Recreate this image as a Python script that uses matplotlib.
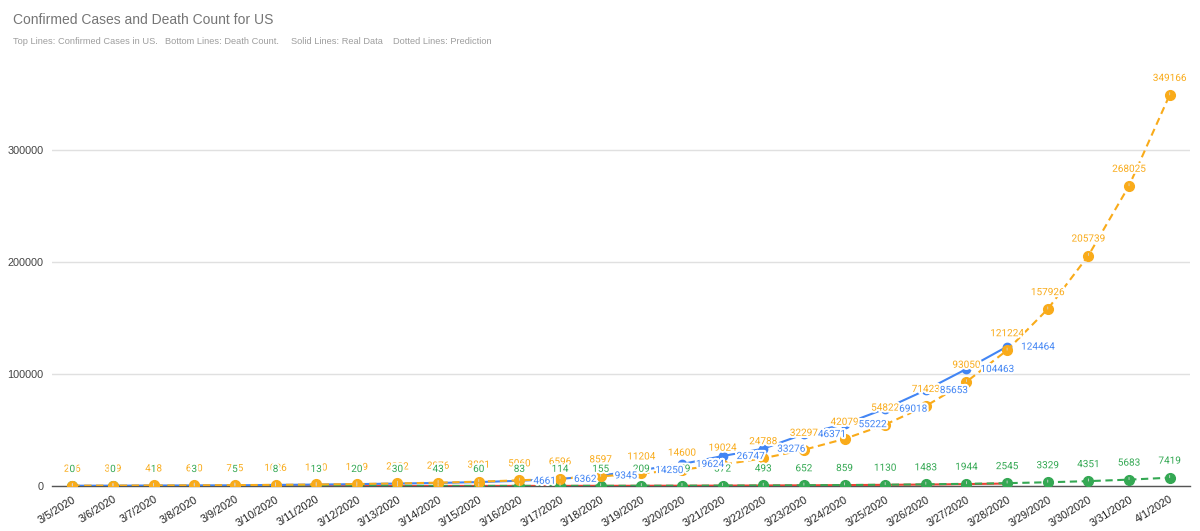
import matplotlib.pyplot as plt
import matplotlib.patheffects as pe

# ---- data ----
dates = ['3/5/2020', '3/6/2020', '3/7/2020', '3/8/2020', '3/9/2020', '3/10/2020',
         '3/11/2020', '3/12/2020', '3/13/2020', '3/14/2020', '3/15/2020', '3/16/2020',
         '3/17/2020', '3/18/2020', '3/19/2020', '3/20/2020', '3/21/2020', '3/22/2020',
         '3/23/2020', '3/24/2020', '3/25/2020', '3/26/2020', '3/27/2020', '3/28/2020',
         '3/29/2020', '3/30/2020', '3/31/2020', '4/1/2020']

# real data: 3/5 .. 3/28
real_cases = [217, 262, 402, 518, 583, 959, 1281, 1663, 2179, 2726, 3499, 4661,
              6362, 9345, 14250, 19624, 26747, 33276, 46371, 55222, 69018, 85653,
              104463, 124464]
real_deaths = [11, 14, 19, 22, 26, 31, 38, 41, 49, 58, 69, 87, 110, 150, 207, 260,
               340, 471, 590, 800, 1050, 1300, 1700, 2200]

# prediction: 3/5 .. 4/1
pred_cases = [266, 349, 458, 600, 785, 1026, 1340, 1749, 2282, 2976, 3881, 5060,
              6596, 8597, 11204, 14600, 19024, 24788, 32297, 42079, 54822, 71423,
              93050, 121224, 157926, 205739, 268025, 349166]
pred_deaths = [0, 0, 1, 3, 5, 8, 13, 20, 30, 43, 60, 83, 114, 155, 209, 279, 372,
               493, 652, 859, 1130, 1483, 1944, 2545, 3329, 4351, 5683, 7419]

blue_label_from = 11  # real-case labels shown from 3/16 on

BLUE = '#4285f4'
RED = '#ea4335'
ORANGE = '#f9ab1a'
GREEN = '#34a853'

fig = plt.figure(figsize=(12, 5.31), dpi=100)
ax = fig.add_axes([52 / 1200, 1 - 486 / 531, (1190 - 52) / 1200, (486 - 60) / 531])

x_real = list(range(len(real_cases)))
x_pred = list(range(len(pred_cases)))

ax.plot(x_real, real_deaths, color=RED, lw=1.5, zorder=3)
ax.plot(x_real, real_cases, color=BLUE, lw=1.5, marker='o', ms=6, zorder=4)
ax.plot(x_pred, pred_deaths, color=GREEN, lw=1.5, ls=(0, (3.5, 2.2)),
        marker='o', ms=7, zorder=5)
ax.plot(x_pred, pred_cases, color=ORANGE, lw=1.5, ls=(0, (3.5, 2.2)),
        marker='o', ms=7, zorder=6)

halo = [pe.withStroke(linewidth=3, foreground='white')]
lab_font = dict(fontsize=7.2, family='Roboto', path_effects=halo, zorder=10)


def above(xs, ys, color):
    for xi, yi in zip(xs, ys):
        ax.annotate(str(yi), xy=(xi, yi), xytext=(0, 17), textcoords='offset pixels',
                    ha='center', va='center', color=color,
                    arrowprops=dict(arrowstyle='-', color='#d6d6d6', lw=0.6,
                                    shrinkA=5, shrinkB=4),
                    **lab_font)


above(x_pred, pred_cases, ORANGE)
above(x_pred, pred_deaths, GREEN)
for xi, yi in zip(x_real[blue_label_from:], real_cases[blue_label_from:]):
    ax.annotate(str(yi), xy=(xi, yi), xytext=(14, 0), textcoords='offset pixels',
                ha='left', va='center', color=BLUE, **lab_font)

# axes styling
ax.set_xlim(-0.5, len(dates) - 0.5)
ax.set_ylim(0, 426 / 112 * 100000)
ax.set_yticks([0, 100000, 200000, 300000])
ax.set_yticklabels(['0', '100000', '200000', '300000'])
ax.set_xticks(x_pred)
ax.set_xticklabels(dates, rotation=32, ha='right', rotation_mode='anchor')
ax.tick_params(axis='both', length=0, labelsize=7.8, colors='#222222', pad=6)
ax.tick_params(axis='y', colors='#444444', pad=6)
for lbl in ax.get_xticklabels() + ax.get_yticklabels():
    lbl.set_family('Liberation Sans')
ax.grid(axis='y', color='#e0e0e0', lw=1)
ax.set_axisbelow(True)
for s in ['top', 'right', 'left']:
    ax.spines[s].set_visible(False)
ax.spines['bottom'].set_color('#555555')
ax.spines['bottom'].set_linewidth(1)
ax.spines['bottom'].set_zorder(2)

# titles
fig.text(13 / 1200, 1 - 20 / 531, 'Confirmed Cases and Death Count for US',
         fontsize=10, color='#757575', family='Liberation Sans', va='center')
sub = ['Top Lines: Confirmed Cases in US.', 'Bottom Lines: Death Count.',
       'Solid Lines: Real Data', 'Dotted Lines: Prediction']
for xs, s in zip([13, 165, 291, 393], sub):
    fig.text(xs / 1200, 1 - 42 / 531, s, fontsize=6.7, color='#9e9e9e',
             family='Liberation Sans', va='center')

fig.savefig('out.png', dpi=100)
